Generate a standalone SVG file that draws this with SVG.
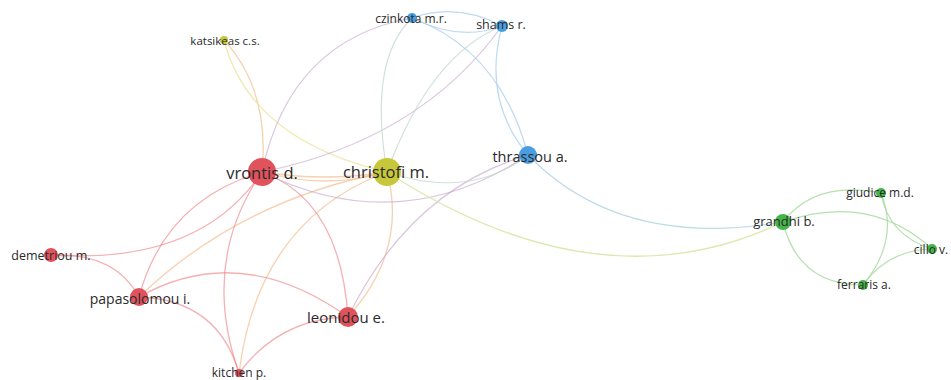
<svg xmlns="http://www.w3.org/2000/svg" width="951" height="380" viewBox="0 0 951 380">
<style>
  text { font-family: "Open Sans", "Noto Sans", "DejaVu Sans", sans-serif; fill: #2a2a2a; text-anchor: middle; dominant-baseline: central; }
  .e { fill: none; stroke-linecap: round; }
  .rr { stroke: #f0868a; stroke-opacity: 0.65; stroke-width: 1.3; }
  .ry { stroke: #f2b07a; stroke-opacity: 0.6; stroke-width: 1.3; }
  .rb { stroke: #c8a6cc; stroke-opacity: 0.65; stroke-width: 1.2; }
  .yy { stroke: #e8e08a; stroke-opacity: 0.7; stroke-width: 1.2; }
  .yb { stroke: #bcd6c8; stroke-opacity: 0.7; stroke-width: 1.2; }
  .yg { stroke: #d4e6a0; stroke-opacity: 0.85; stroke-width: 1.3; }
  .bb { stroke: #a8cdee; stroke-opacity: 0.75; stroke-width: 1.2; }
  .bg { stroke: #a8d0de; stroke-opacity: 0.75; stroke-width: 1.2; }
  .gg { stroke: #a8dca0; stroke-opacity: 0.85; stroke-width: 1.2; }
  .red { fill: #e0525c; }
  .yel { fill: #c6c83a; }
  .blu { fill: #4a9ee0; }
  .grn { fill: #45b548; }
</style>
<rect width="951" height="380" fill="#ffffff"/>
<g id="connectors">
  <!-- red cluster -->
  <path class="e rr" d="M51 255 Q200 265 262 172"/>
  <path class="e rr" d="M51 255 Q115 252 139 297"/>
  <path class="e rr" d="M139 297 Q165 200 262 172"/>
  <path class="e ry" d="M139 297 Q240 200 387 172"/>
  <path class="e rr" d="M139 297 Q240 240 348 317"/>
  <path class="e rr" d="M139 297 Q218 300 239 373"/>
  <path class="e rr" d="M239 373 Q200 262 262 172"/>
  <path class="e ry" d="M239 373 Q258 220 387 172"/>
  <path class="e rr" d="M239 373 Q280 318 348 317"/>
  <path class="e rr" d="M262 172 Q340 200 348 317" stroke-width="2.4"/>
  <path class="e ry" d="M387 172 Q408 250 348 317" stroke-width="1.6"/>
  <path class="e ry" d="M262 172 Q325 190 387 172" stroke-width="3"/>
  <path class="e ry" d="M262 172 Q325 182 387 172" stroke-width="1.5"/>
  <!-- yellow / katsikeas -->
  <path class="e ry" d="M224 40 Q270 90 262 172"/>
  <path class="e yy" d="M224 40 Q250 140 387 172"/>
  <!-- red-blue -->
  <path class="e rb" d="M262 172 Q290 40 412 18"/>
  <path class="e rb" d="M262 172 Q420 140 502 26"/>
  <path class="e rb" d="M262 172 Q400 240 528 155"/>
  <path class="e rb" d="M348 317 Q410 190 528 155"/>
  <!-- yellow-blue -->
  <path class="e yb" d="M387 172 Q368 60 412 18"/>
  <path class="e yb" d="M387 172 Q430 55 502 26"/>
  <path class="e yb" d="M387 172 Q470 200 528 155" stroke-width="1.6"/>
  <!-- blue cluster -->
  <path class="e bb" d="M412 18 Q457 2 502 26"/>
  <path class="e bb" d="M412 18 Q460 42 502 26"/>
  <path class="e bb" d="M412 18 Q500 50 528 155"/>
  <path class="e bb" d="M502 26 Q482 100 528 155"/>
  <!-- to green -->
  <path class="e bg" d="M528 155 Q620 250 783 222"/>
  <path class="e yg" d="M387 172 Q600 310 783 222"/>
  <!-- green cluster -->
  <path class="e gg" d="M783 222 Q815 180 881 193"/>
  <path class="e gg" d="M783 222 Q870 192 932 249"/>
  <path class="e gg" d="M783 222 Q798 285 863 285"/>
  <path class="e gg" d="M881 193 Q900 240 863 285"/>
  <path class="e gg" d="M881 193 Q888 235 932 249"/>
  <path class="e gg" d="M863 285 Q888 250 932 249"/>
</g>
<g id="node-katsikeas"><circle class="yel" cx="224" cy="40" r="4"/><text x="225" y="40" font-size="11.5">katsikeas c.s.</text></g>
<g id="node-czinkota"><circle class="blu" cx="412" cy="18" r="5"/><text x="411" y="18" font-size="12">czinkota m.r.</text></g>
<g id="node-shams"><circle class="blu" cx="502" cy="26" r="6"/><text x="501" y="24" font-size="12.5">shams r.</text></g>
<g id="node-thrassou"><circle class="blu" cx="528" cy="155" r="9"/><text x="530" y="156" font-size="14.5">thrassou a.</text></g>
<g id="node-vrontis"><circle class="red" cx="262" cy="172" r="14"/><text x="262" y="172" font-size="16.5">vrontis d.</text></g>
<g id="node-christofi"><circle class="yel" cx="387" cy="172" r="14"/><text x="386" y="171" font-size="16.5">christofi m.</text></g>
<g id="node-demetriou"><circle class="red" cx="51" cy="255" r="7"/><text x="51" y="255" font-size="12.5">demetriou m.</text></g>
<g id="node-papasolomou"><circle class="red" cx="139" cy="297" r="9"/><text x="140" y="298" font-size="14">papasolomou i.</text></g>
<g id="node-leonidou"><circle class="red" cx="348" cy="317" r="10"/><text x="346" y="317" font-size="15">leonidou e.</text></g>
<g id="node-kitchen"><circle class="red" cx="239" cy="373" r="4"/><text x="239" y="372" font-size="12">kitchen p.</text></g>
<g id="node-grandhi"><circle class="grn" cx="783" cy="222" r="8"/><text x="784" y="221" font-size="13">grandhi b.</text></g>
<g id="node-giudice"><circle class="grn" cx="881" cy="193" r="5"/><text x="880" y="192" font-size="12">giudice m.d.</text></g>
<g id="node-cillo"><circle class="grn" cx="932" cy="249" r="5"/><text x="931" y="249" font-size="12">cillo v.</text></g>
<g id="node-ferraris"><circle class="grn" cx="863" cy="285" r="5"/><text x="864" y="284" font-size="12">ferraris a.</text></g>
</svg>
